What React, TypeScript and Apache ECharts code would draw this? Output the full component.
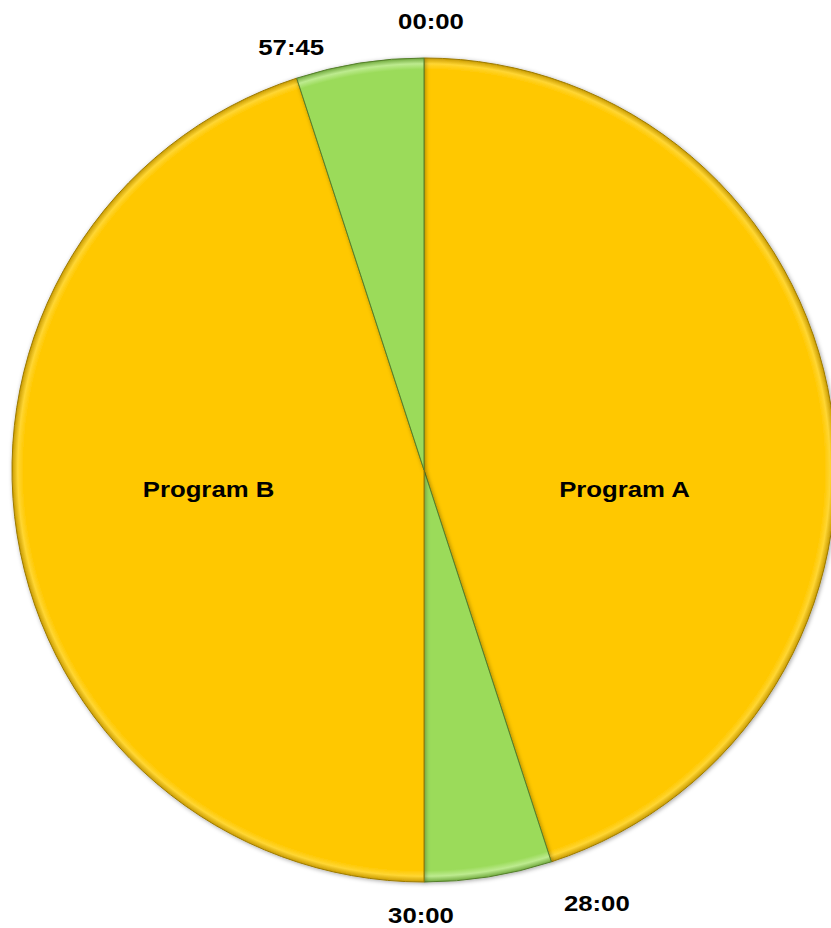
import React, { useEffect, useRef } from 'react';
import * as echarts from 'echarts';

const sliceNames = ['Program A', 'Break 1', 'Program B', 'Break 2'];
const sliceValues = [45, 5, 45, 5];
const boundaryLabels = ['00:00', '28:00', '30:00', '57:45'];

const CX = 424;
const CY = 470;
const R = 412;
const FONT = '"Liberation Sans", Arial, sans-serif';

function ringFill(base: string, light: string, dark: string) {
  return {
    type: 'radial',
    x: CX,
    y: CY,
    r: R,
    global: true,
    colorStops: [
      { offset: 0, color: base },
      { offset: 0.972, color: base },
      { offset: 0.986, color: light },
      { offset: 1, color: dark },
    ],
  };
}

function textEl(t: string, x: number, y: number) {
  return {
    type: 'text',
    x,
    y,
    scaleX: 1.12,
    silent: true,
    z: 10,
    style: {
      text: t,
      font: `bold 23px ${FONT}`,
      fill: '#000',
      align: 'center',
      verticalAlign: 'middle',
    },
  };
}

export default function App() {
  const ref = useRef<HTMLDivElement>(null);
  useEffect(() => {
    document.body.style.margin = '0';
    const chart = echarts.init(ref.current!, null, { renderer: 'svg' });
    const total = sliceValues.reduce((a, b) => a + b, 0);
    const starts: number[] = [];
    let acc = 0;
    sliceValues.forEach((v) => {
      starts.push(acc);
      acc += v;
    });

    // boundary (time) labels just outside the rim
    const boundaryNudges = [
      [7, -3],
      [35, 9],
      [-3, -1],
      [5, 1],
    ];
    const LR = R + 34;
    const graphic: any[] = boundaryLabels.map((t, i) => {
      const a = (starts[i] / total) * Math.PI * 2;
      return textEl(
        t,
        CX + Math.sin(a) * LR + boundaryNudges[i][0],
        CY - Math.cos(a) * LR + boundaryNudges[i][1]
      );
    });

    // slice name labels for the programs, at half radius of the mid-angle
    const nameNudges: Record<number, number[]> = { 0: [-3, 51], 2: [-12, -13] };
    sliceNames.forEach((n, i) => {
      if (i % 2 !== 0) return;
      const a = ((starts[i] + sliceValues[i] / 2) / total) * Math.PI * 2;
      graphic.push(
        textEl(
          n,
          CX + Math.sin(a) * R * 0.5 + nameNudges[i][0],
          CY - Math.cos(a) * R * 0.5 + nameNudges[i][1]
        )
      );
    });

    const gold = ringFill('#FFC800', '#FFD633', '#C89A00');
    const green = ringFill('#9BDB5A', '#BDEB8F', '#6FA83C');

    const data = sliceNames.map((n, i) => {
      const isProg = i % 2 === 0;
      return {
        name: n,
        value: sliceValues[i],
        itemStyle: {
          color: isProg ? gold : green,
          borderColor: isProg ? '#9C7A00' : '#557F2C',
        },
      };
    });

    chart.setOption({
      animation: false,
      graphic,
      series: [
        {
          type: 'pie',
          center: [CX, CY],
          radius: [0, R],
          startAngle: 90,
          clockwise: true,
          avoidLabelOverlap: false,
          data,
          itemStyle: {
            borderWidth: 1,
            shadowBlur: 4,
            shadowColor: 'rgba(0,0,0,0.35)',
            shadowOffsetX: 1,
            shadowOffsetY: 1,
          },
          label: { show: false },
          labelLine: { show: false },
          emphasis: { disabled: true },
        },
      ],
    });
    return () => chart.dispose();
  }, []);
  return <div ref={ref} style={{ width: 831, height: 928 }} />;
}
